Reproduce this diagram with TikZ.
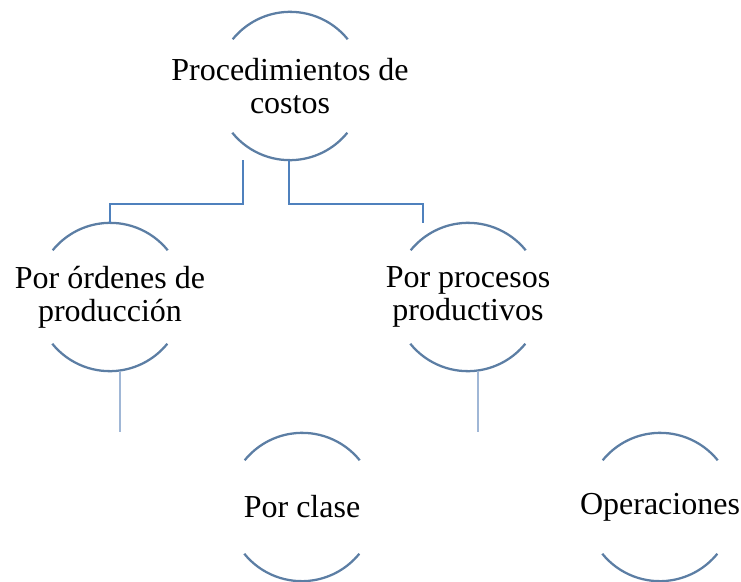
\documentclass[tikz,border=0pt]{standalone}
\usepackage{fontspec}
\setmainfont{Liberation Serif}
\usepackage{xcolor}
\usepackage{tikz}
\usetikzlibrary{calc}

\definecolor{ringblue}{RGB}{92,126,164}
\definecolor{linkblue}{RGB}{79,129,189}
\definecolor{linklight}{RGB}{160,183,214}

\tikzset{
  ring/.style={circle, minimum size=111pt, inner sep=0pt},
  txt/.style={align=center, font=\fontsize{24}{24.8}\selectfont},
  ringline/.style={draw=ringblue, line width=1.7pt},
  link/.style={draw=linkblue, line width=1.7pt},
  sublink/.style={draw=linklight, line width=1.7pt}
}
% top and bottom arcs of a ring
\newcommand{\ringarcs}[1]{%
  \draw[ringline] (#1.39) arc[start angle=39, end angle=141, radius=55.5pt];
  \draw[ringline] (#1.219) arc[start angle=219, end angle=321, radius=55.5pt];
}

\begin{document}
\begin{tikzpicture}[x=0.75pt,y=-0.75pt]
\useasboundingbox (0,0) rectangle (741,581);

% Define nodes
\node[ring, label={[txt]center:Procedimientos de\\costos}] (proc) at (290,86) {};
\node[ring, label={[txt]center:Por órdenes de\\producción}] (ordenes) at (110,297) {};
\node[ring, label={[txt]center:Por procesos\\productivos}] (procesos) at (468,297) {};
\node[ring, label={[txt]center:Por clase}] (clase) at (302,507) {};
\node[ring, label={[txt]center:Operaciones}] (oper) at (660,507) {};

% Arcs
\ringarcs{proc}
\ringarcs{ordenes}
\ringarcs{procesos}
\ringarcs{clase}
\ringarcs{oper}

% Connect the nodes
\draw[link] ($(proc.south)+(-47,0)$) |- ($(ordenes.north)+(0,-19)$) -- (ordenes.north);
\draw[link] ($(proc.south)+(-1,0)$) |- ($(procesos.north)+(-45,-19)$) -- ($(procesos.north)+(-45,0)$);
\coordinate (endL) at ($(ordenes.south)+(10,61)$);
\coordinate (endR) at ($(procesos.south)+(10,61)$);
\draw[sublink] ($(ordenes.south)+(10,0)$) -- (endL);
\draw[sublink] ($(procesos.south)+(10,0)$) -- (endR);
\end{tikzpicture}
\end{document}
